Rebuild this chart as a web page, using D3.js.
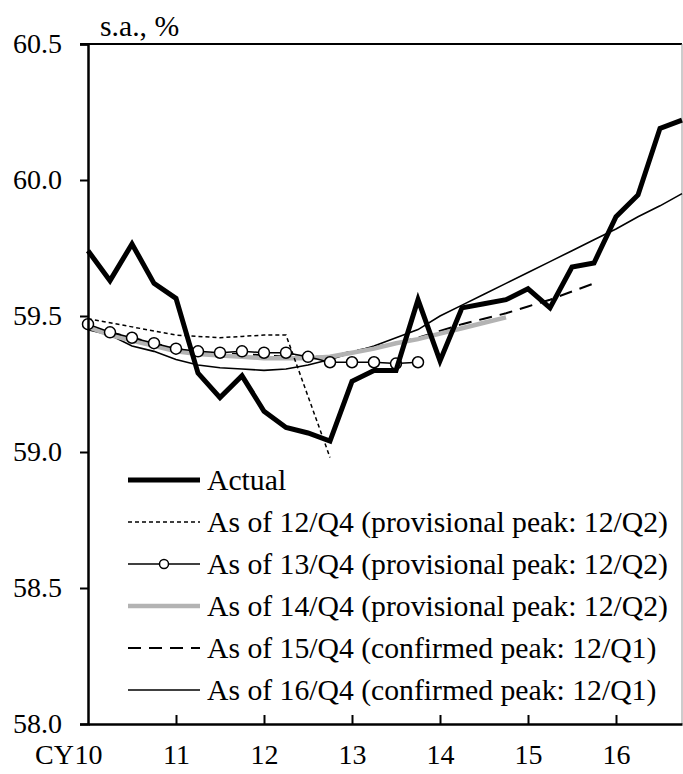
<!DOCTYPE html>
<html>
<head>
<meta charset="utf-8">
<script src="https://cdn.jsdelivr.net/npm/d3@7"></script>
</head>
<body style="margin:0">
<svg id="chart" width="683" height="774"></svg>
<script>
// Quarterly series, first point = CY10/Q1
const actual = [59.74, 59.63, 59.765, 59.62, 59.565, 59.29, 59.20, 59.28,
  59.15, 59.09, 59.07, 59.04, 59.26, 59.30, 59.30, 59.56,
  59.335, 59.53, 59.545, 59.56, 59.60, 59.53, 59.68, 59.695,
  59.865, 59.945, 60.19, 60.22];
const asOf12Q4 = [59.49, 59.475, 59.46, 59.445, 59.43, 59.425, 59.42, 59.425,
  59.43, 59.43, 59.205, 58.98];
const asOf13Q4 = [59.47, 59.44, 59.42, 59.40, 59.38, 59.37, 59.365, 59.37,
  59.365, 59.365, 59.35, 59.33, 59.33, 59.33, 59.325, 59.33];
const asOf14Q4 = [59.46, 59.43, 59.41, 59.39, 59.37, 59.36, 59.355, 59.35,
  59.345, 59.345, 59.345, 59.35, 59.365, 59.38, 59.40, 59.415,
  59.435, 59.455, 59.475, 59.495];
const asOf15Q4 = [59.46, 59.44, 59.42, 59.40, 59.38, 59.37, 59.36, 59.36,
  59.355, 59.35, 59.35, 59.35, 59.37, 59.385, 59.40, 59.42,
  59.445, 59.47, 59.49, 59.51, 59.535, 59.56, 59.59, 59.62];
const asOf16Q4 = [59.45, 59.43, 59.39, 59.37, 59.34, 59.32, 59.31, 59.305,
  59.30, 59.305, 59.32, 59.34, 59.365, 59.39, 59.42, 59.45,
  59.50, 59.54, 59.58, 59.62, 59.66, 59.70, 59.74, 59.78,
  59.82, 59.865, 59.905, 59.95];

const yTicks = [58.0, 58.5, 59.0, 59.5, 60.0, 60.5];
const xTicks = [10, 11, 12, 13, 14, 15, 16];
const xTickLabels = ["10", "11", "12", "13", "14", "15", "16"];
const unitLabel = "s.a., %";
const xPrefix = "CY";

const legendLabels = [
  "Actual",
  "As of 12/Q4 (provisional peak: 12/Q2)",
  "As of 13/Q4 (provisional peak: 12/Q2)",
  "As of 14/Q4 (provisional peak: 12/Q2)",
  "As of 15/Q4 (confirmed peak: 12/Q1)",
  "As of 16/Q4 (confirmed peak: 12/Q1)"
];

const FONT = "'Liberation Serif', monospace";
const FS = 28;      // axis labels
const FS_TXT = 29.7; // legend and unit label

const svg = d3.select("#chart");
const plotLeft = 88, plotRight = 682, plotTop = 44, plotBottom = 724;

const x = d3.scaleLinear().domain([10, 16.75]).range([plotLeft, plotRight]);
const y = d3.scaleLinear().domain([58.0, 60.5]).range([plotBottom, plotTop]);

const toPts = arr => arr.map((v, i) => [10 + i / 4, v]);
const line = d3.line().x(d => x(d[0])).y(d => y(d[1]));

// Series styles
const styles = [
  { data: actual,   stroke: "#000", width: 5,   dash: null },
  { data: asOf12Q4, stroke: "#000", width: 1.5, dash: "4,3" },
  { data: asOf13Q4, stroke: "#000", width: 1.5, dash: null, markers: true },
  { data: asOf14Q4, stroke: "#b3b3b3", width: 4.5, dash: null },
  { data: asOf15Q4, stroke: "#000", width: 2,   dash: "13,8" },
  { data: asOf16Q4, stroke: "#000", width: 1.6, dash: null }
];

// Frame: top border and right border
svg.append("line").attr("x1", 80).attr("x2", plotRight).attr("y1", plotTop).attr("y2", plotTop)
  .attr("stroke", "#000").attr("stroke-width", 2);
svg.append("line").attr("x1", plotRight).attr("x2", plotRight).attr("y1", plotTop).attr("y2", plotBottom)
  .attr("stroke", "#999").attr("stroke-width", 1);

const plot = svg.append("g");
const drawOrder = [5, 4, 3, 1, 2, 0];
drawOrder.forEach(k => {
  const s = styles[k];
  plot.append("path")
    .datum(toPts(s.data))
    .attr("d", line)
    .attr("fill", "none")
    .attr("stroke", s.stroke)
    .attr("stroke-width", s.width)
    .attr("stroke-linejoin", "miter")
    .attr("stroke-dasharray", s.dash);
  if (s.markers) {
    plot.selectAll(null).data(toPts(s.data)).enter().append("circle")
      .attr("cx", d => x(d[0])).attr("cy", d => y(d[1])).attr("r", 5.5)
      .attr("fill", "#fff").attr("stroke", "#000").attr("stroke-width", 1.5);
  }
});

// Y axis
const yAxis = d3.axisLeft(y).tickValues(yTicks).tickFormat(d3.format(".1f"))
  .tickSize(8).tickPadding(18);
const yg = svg.append("g").attr("transform", `translate(${plotLeft},0)`).call(yAxis);
yg.attr("font-family", null).attr("font-size", null);
yg.select(".domain").attr("stroke", "#000").attr("stroke-width", 2.5);
yg.selectAll(".tick line").attr("stroke", "#000").attr("stroke-width", 2);
yg.selectAll(".tick text").attr("font-family", FONT).attr("font-size", FS);

// X axis (ticks pointing inward)
const xAxis = d3.axisBottom(x).tickValues(xTicks)
  .tickFormat((d, i) => xTickLabels[i]).tickSizeInner(-9).tickSizeOuter(0).tickPadding(20);
const xg = svg.append("g").attr("transform", `translate(0,${plotBottom})`).call(xAxis);
xg.attr("font-family", null).attr("font-size", null);
xg.select(".domain").attr("stroke", "#000").attr("stroke-width", 2.5);
xg.selectAll(".tick line").attr("stroke", "#000").attr("stroke-width", 2);
xg.selectAll(".tick").filter(d => d === 10).select("line").remove();
xg.selectAll(".tick text").attr("font-family", FONT).attr("font-size", FS);

svg.append("text").attr("x", x(10) - 14).attr("y", plotBottom + 40)
  .attr("text-anchor", "end").attr("font-family", FONT).attr("font-size", FS).text(xPrefix);

// Unit label
svg.append("text").attr("x", 100).attr("y", 36)
  .attr("font-family", FONT).attr("font-size", FS_TXT).text(unitLabel);

// Legend
const lg = svg.append("g");
const legY0 = 480, legStep = 42, lx1 = 128, lx2 = 200;
styles.forEach((s, i) => {
  const ly = legY0 + i * legStep;
  lg.append("line").attr("x1", lx1).attr("x2", lx2).attr("y1", ly).attr("y2", ly)
    .attr("stroke", s.stroke).attr("stroke-width", s.width)
    .attr("stroke-dasharray", s.dash);
  if (s.markers) {
    lg.append("circle").attr("cx", (lx1 + lx2) / 2).attr("cy", ly).attr("r", 4.5)
      .attr("fill", "#fff").attr("stroke", "#000").attr("stroke-width", 1.5);
  }
  lg.append("text").attr("x", 207).attr("y", ly + 10)
    .attr("font-family", FONT).attr("font-size", FS_TXT).text(legendLabels[i]);
});
</script>
</body>
</html>
